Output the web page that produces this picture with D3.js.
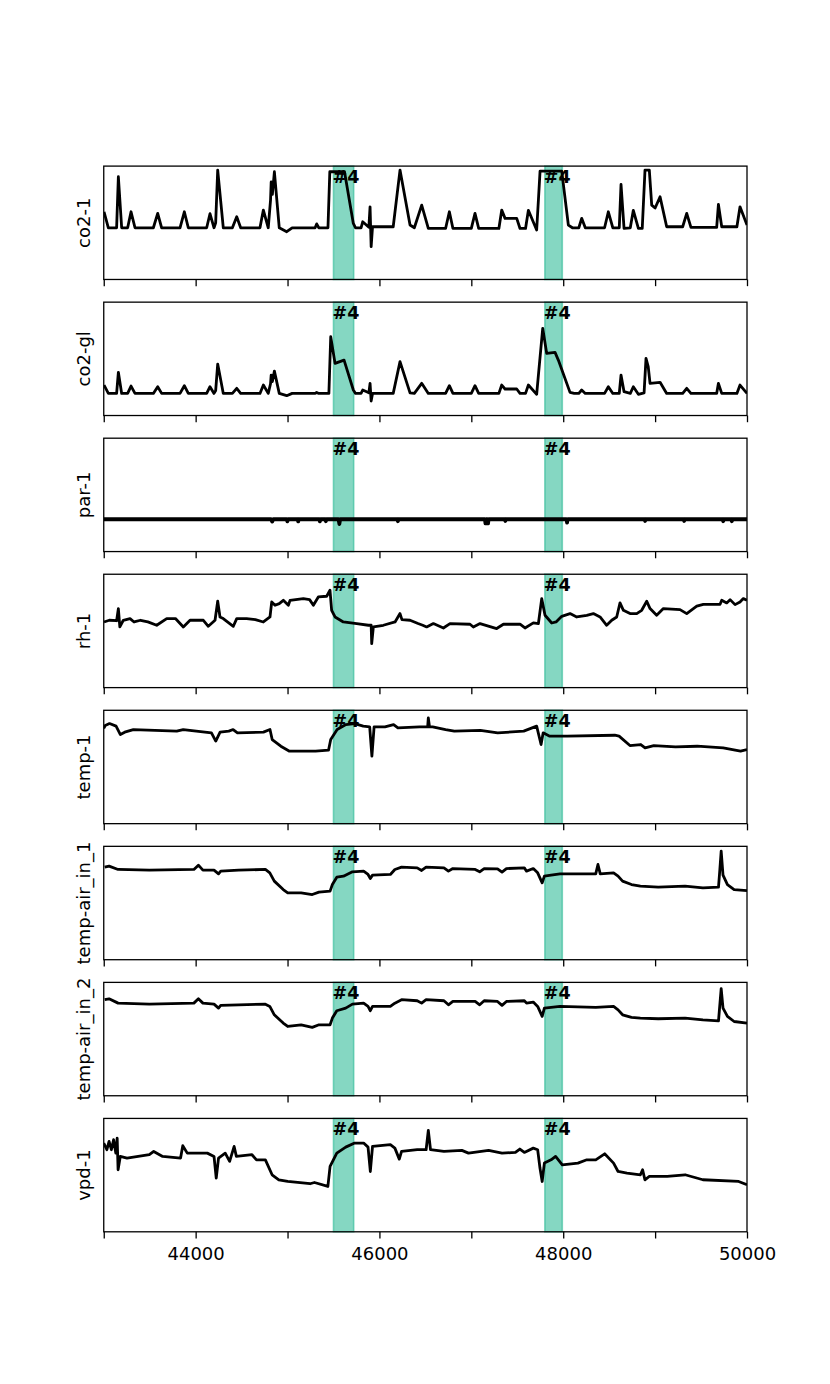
<!DOCTYPE html>
<html>
<head>
<meta charset="utf-8">
<script src="https://cdn.jsdelivr.net/npm/d3@7"></script>
<style>
  body { margin: 0; background: #fff; }
  text { font-family: "DejaVu Sans", sans-serif; }
  .ylab { font-size: 18px; }
  .tag { font-size: 17.5px; font-weight: bold; }
  .axis text { font-size: 18px; font-family: "DejaVu Sans", sans-serif; }
</style>
</head>
<body>
<div id="chart"></div>
<script>
// x range and the highlighted windows
const xDomain = [43000, 50000];
const tickValues = [43000, 44000, 45000, 46000, 47000, 48000, 49000, 50000];
const spans = [[45500, 45720], [47800, 47990]];
const spanLabel = "#4";

// series: [time, level] (y axis has no scale shown, level is 0-100 of panel height)
const co2_1 = [[43003,59.7],[43050,45.6],[43140,45.6],[43159,90.6],[43195,45.6],[43260,45.6],[43297,59.7],[43340,45.6],[43540,45.6],[43587,58.3],[43630,45.6],[43830,45.6],[43877,59.7],[43920,45.6],[44120,45.6],[44156,58],[44200,45.6],[44218,50],[44240,96.5],[44301,45.6],[44400,45.6],[44447,55.3],[44490,45.6],[44700,45.6],[44737,61.2],[44790,45.6],[44815,70],[44822,86],[44835,75],[44857,95],[44910,45.6],[44991,42.1],[45050,45.6],[45300,45.6],[45317,49],[45340,45.6],[45440,45.6],[45460,95],[45620,95],[45716,49.4],[45740,45.6],[45800,45.6],[45818,50.9],[45885,46],[45898,64.1],[45910,28.9],[45925,46.5],[46150,46.5],[46224,96.5],[46333,48],[46380,45.6],[46460,65.6],[46532,45],[46720,45],[46761,59.7],[46800,45],[47000,45],[47040,58.3],[47080,45],[47300,45],[47331,61.2],[47367,53.9],[47494,53.9],[47530,45],[47590,45],[47621,61],[47711,43.6],[47730,70],[47748,95.6],[47984,95.6],[48056,48],[48100,45.6],[48170,45.6],[48201,53.9],[48240,45.6],[48450,45.6],[48491,59.7],[48540,45.6],[48610,45.6],[48629,83.8],[48662,45],[48730,45.6],[48763,61],[48818,45],[48860,45],[48890,96.5],[48937,96.5],[48963,65.6],[49000,63],[49054,72.9],[49126,46.5],[49300,46.5],[49344,58.3],[49390,46],[49670,46],[49689,66.2],[49725,46.5],[49890,46.5],[49924,64.1],[50000,48]];

const co2_gl = [[43003,26.9],[43050,19.5],[43140,19.5],[43159,38.1],[43195,19.5],[43260,19.5],[43297,26],[43340,19.5],[43540,19.5],[43587,25.4],[43630,19.5],[43830,19.5],[43877,26.3],[43920,19.5],[44120,19.5],[44156,25.4],[44200,19.5],[44218,22],[44240,45.4],[44301,19.5],[44400,19.5],[44447,24],[44490,19.5],[44700,19.5],[44737,26.9],[44790,19.5],[44815,28],[44822,35.7],[44835,30],[44857,39.2],[44910,19.5],[44991,17.5],[45050,19.5],[45300,19.5],[45317,20.4],[45340,19.5],[45450,19.5],[45470,69.5],[45517,46],[45615,48.9],[45716,22.5],[45740,19.5],[45800,19.5],[45818,22.5],[45885,20],[45898,28.4],[45910,12.8],[45925,19.5],[46150,19.5],[46224,47.5],[46333,20],[46380,19.5],[46460,28.4],[46532,19.5],[46720,19.5],[46761,26.3],[46800,19.5],[47000,19.5],[47040,26.3],[47080,19.5],[47300,19.5],[47331,26.9],[47367,23.4],[47494,23.4],[47530,19.5],[47590,19.5],[47621,26.9],[47711,18.7],[47735,40],[47777,76.9],[47820,54.8],[47911,55.7],[47947,48.9],[48074,20.4],[48120,19.5],[48170,19.5],[48201,22.5],[48240,19.5],[48450,19.5],[48491,25.4],[48540,19.5],[48610,19.5],[48629,35.7],[48662,21],[48730,19.5],[48763,25.4],[48818,18.7],[48880,20],[48901,50.4],[48925,43.1],[48945,28.4],[49054,29.3],[49126,19.5],[49300,19.5],[49344,24],[49390,19.5],[49670,19.5],[49689,28.4],[49725,19.5],[49890,19.5],[49924,26.9],[50000,19.5]];

const par_1 = [[43000,28.5],[44820,28.5],[44833,26.4],[44846,28.5],[44990,28.5],[44998,26.6],[45006,28.5],[45110,28.5],[45116,26.6],[45122,28.5],[45345,28.5],[45352,26.6],[45360,28.5],[45410,28.5],[45417,26.8],[45424,28.5],[45555,28.5],[45564,24.3],[45573,28.5],[46195,28.5],[46201,26.8],[46207,28.5],[47148,28.5],[47154,24.8],[47160,28.5],[47176,28.5],[47182,24.8],[47188,28.5],[47364,28.5],[47370,27],[47376,28.5],[48036,28.5],[48042,25.5],[48048,28.5],[48885,28.5],[48891,27],[48897,28.5],[49310,28.5],[49316,27],[49322,28.5],[49735,28.5],[49741,26.8],[49747,28.5],[49829,28.5],[49835,26.8],[49841,28.5],[50000,28.5]];

const rh_1 = [[43003,57.9],[43060,59.4],[43140,59],[43159,69.7],[43175,53.5],[43213,59.4],[43286,60.9],[43330,57.9],[43400,59.4],[43480,58],[43576,55],[43685,60.9],[43780,60.9],[43866,53.5],[43939,59.4],[44084,59.4],[44138,54.1],[44211,59.4],[44240,76.2],[44265,62.3],[44300,60.9],[44410,54.1],[44447,60.9],[44555,60.9],[44650,60],[44737,57.9],[44809,62.3],[44828,75.6],[44864,72.6],[44910,74.1],[44954,77],[45009,72.6],[45027,77],[45172,78.5],[45240,77.6],[45281,72.6],[45335,80],[45426,80.6],[45462,85.9],[45480,68.2],[45517,62.3],[45607,57.9],[45753,56.4],[45880,55],[45910,55],[45916,38.8],[45934,53.5],[46043,55],[46170,57.9],[46224,65.3],[46245,60],[46333,59.4],[46420,56.5],[46471,55],[46514,53.5],[46587,56.5],[46696,52.6],[46768,56.5],[46986,55.9],[47022,53.5],[47095,56.5],[47276,52.1],[47349,55.9],[47530,55.9],[47584,52.6],[47675,57.1],[47730,56.5],[47766,78.5],[47802,63.8],[47875,57],[47922,57.9],[47984,62.9],[48074,65.3],[48147,62.3],[48256,63.8],[48328,65.3],[48401,62.3],[48473,55],[48528,59.4],[48582,62.3],[48618,74.7],[48655,68.2],[48727,65.3],[48800,65.3],[48854,68.2],[48909,76.2],[48945,69.7],[49017,63.8],[49090,69.7],[49271,68.8],[49344,65.3],[49453,71.8],[49525,73.5],[49707,73.5],[49725,77],[49779,74.7],[49816,77.6],[49870,73.2],[49924,75.6],[49960,78.5],[50000,77]];

const temp_1 = [[43000,84],[43016,86.5],[43063,88.3],[43134,86],[43181,78.6],[43228,80.7],[43322,83],[43794,81.6],[43865,83],[44172,80.1],[44219,72.8],[44266,80.7],[44361,81.6],[44408,83],[44455,80.1],[44738,80.7],[44809,83],[44833,74.2],[44927,68.3],[45021,63.9],[45305,63.9],[45446,64.8],[45470,74.2],[45540,83],[45635,87.4],[45729,88.3],[45824,86],[45894,85.4],[45918,59.5],[45942,85.4],[46060,85.4],[46154,87.4],[46201,84.5],[46437,85.4],[46525,85.4],[46532,93.3],[46545,85.4],[46579,85.4],[46720,83],[46815,81.6],[47098,82.3],[47287,80.1],[47570,81.6],[47711,86],[47759,69.8],[47782,80.1],[47853,77.2],[48042,77.2],[48561,78],[48608,77.2],[48726,68.9],[48844,69.8],[48891,66.8],[48986,68.9],[49222,67.7],[49458,68.3],[49741,66.8],[49930,63.9],[50000,65.3]];

const temp_air_in_1 = [[43010,81.6],[43058,82.5],[43156,79.6],[43496,79],[43981,79.6],[44030,83.4],[44079,79],[44200,79],[44249,75.7],[44273,78.1],[44467,79],[44759,79.6],[44807,76.6],[44856,69.3],[44953,61.9],[45002,59],[45148,59],[45269,57.5],[45342,59.6],[45463,60.5],[45488,66.3],[45536,72.8],[45609,73.7],[45706,77.5],[45828,78.1],[45876,75.2],[45901,71.6],[45925,74.6],[46119,75.2],[46168,79.6],[46241,81.6],[46411,81],[46459,78.7],[46508,81.6],[46702,81],[46751,78.1],[46799,80.4],[47042,79.6],[47091,77.5],[47140,80.4],[47285,80.2],[47334,77.2],[47382,80.4],[47577,81],[47601,78.1],[47674,80.4],[47722,76.6],[47771,67.8],[47795,73.7],[47868,74.6],[47965,75.7],[48354,75.7],[48378,84],[48403,75.7],[48548,76.6],[48597,73.7],[48646,69.3],[48743,66.3],[48840,64.9],[49034,64],[49326,64.9],[49520,63.4],[49690,64],[49705,80],[49719,95.7],[49739,74.6],[49787,66.3],[49860,61.9],[50000,61]];

const temp_air_in_2 = [[43010,84.7],[43058,85.5],[43156,81.7],[43496,80.8],[43981,81.7],[44030,85.5],[44079,81.7],[44200,80.8],[44249,77.3],[44273,79.7],[44467,80.2],[44759,80.8],[44807,78.8],[44856,71.4],[44953,64.1],[45002,61.1],[45148,62.6],[45269,60.3],[45342,62.6],[45463,62.6],[45488,68.5],[45536,75],[45633,77.3],[45706,80.8],[45828,81.7],[45876,78.8],[45901,75],[45925,78.8],[46119,78.8],[46168,81.7],[46241,84.7],[46411,83.8],[46459,81.7],[46508,84.7],[46702,83.8],[46751,80.2],[46799,83.2],[47042,83.2],[47091,80.2],[47140,83.8],[47285,83.2],[47334,79.7],[47382,83.2],[47577,83.8],[47601,81.7],[47674,82.6],[47722,78.8],[47771,70],[47795,77.3],[47868,77.9],[47965,78.8],[48354,77.9],[48548,78.8],[48597,75.8],[48646,71.4],[48743,69.1],[48840,68.5],[49034,67.9],[49326,68.5],[49520,67],[49690,66.1],[49719,94.4],[49739,77.3],[49787,70],[49860,65.5],[50000,64.1]];

const vpd_1 = [[43000,78.3],[43034,72.4],[43058,79.7],[43083,72.4],[43107,81.2],[43131,69.4],[43146,82.7],[43156,54.7],[43180,66.5],[43253,65],[43496,68],[43544,70.9],[43641,66.5],[43836,65],[43860,75.9],[43909,69.4],[44127,69.4],[44200,66.5],[44224,47.4],[44249,65],[44322,69.4],[44370,62.1],[44419,75.3],[44443,66.5],[44613,68],[44662,63.5],[44759,63.5],[44832,50.3],[44905,45.9],[45002,44.4],[45245,42.4],[45293,43.5],[45439,40],[45463,57.7],[45536,69.4],[45633,74.7],[45730,78.3],[45828,78.3],[45876,74.7],[45901,53.2],[45925,75.3],[46119,76.8],[46168,73.8],[46216,64.1],[46241,70.9],[46411,72.4],[46508,72.4],[46532,89.4],[46556,72.4],[46702,70.9],[46897,71.8],[46969,69.4],[47188,71.8],[47334,69.4],[47480,70],[47528,73],[47577,70],[47674,73.8],[47722,72.4],[47747,56.2],[47771,44.4],[47795,60.6],[47868,63.5],[47917,66.5],[47990,59.1],[48160,60.6],[48257,63.5],[48354,63.5],[48451,68.8],[48548,60.6],[48597,53.2],[48694,51.8],[48840,50.3],[48864,54.7],[48889,45.9],[48937,48.8],[49131,48.8],[49326,50.3],[49520,45.9],[49909,44.4],[50000,41.5]];

const panelNames = ["co2-1", "co2-gl", "par-1", "rh-1", "temp-1", "temp-air_in_1", "temp-air_in_2", "vpd-1"];
const panelSeries = [co2_1, co2_gl, par_1, rh_1, temp_1, temp_air_in_1, temp_air_in_2, vpd_1];

/* figure geometry, same fractions as a default matplotlib figure */
const width = 830, height = 1384;
const margin = { top: 166.1, left: 103.75, right: 83, bottom: 152.2 };
const hspace = 0.2;
const nPanels = panelNames.length;
const panelH = (height - margin.top - margin.bottom) / (nPanels + (nPanels - 1) * hspace);
const step = panelH * (1 + hspace);

const svg = d3.select("#chart")
    .append("svg")
    .attr("width", width)
    .attr("height", height);

const xScale = d3.scaleLinear()
    .domain(xDomain)
    .range([margin.left, width - margin.right]);

const yScale = d3.scaleLinear()
    .domain([0, 100])
    .range([panelH, 0]);

const line = d3.line()
    .x(d => xScale(d[0]))
    .y(d => yScale(d[1]));

panelNames.forEach((name, i) => {
    const g = svg.append("g")
        .attr("transform", `translate(0,${margin.top + i * step})`);

    g.append("clipPath")
        .attr("id", "clip" + i)
        .append("rect")
        .attr("x", margin.left)
        .attr("y", 0)
        .attr("width", xScale.range()[1] - margin.left)
        .attr("height", panelH);

    // highlighted windows
    g.selectAll(".span")
        .data(spans)
        .enter()
        .append("rect")
        .attr("class", "span")
        .attr("x", d => xScale(d[0]))
        .attr("y", 0)
        .attr("width", d => xScale(d[1]) - xScale(d[0]))
        .attr("height", panelH)
        .attr("fill", "#20b68f")
        .attr("fill-opacity", 0.55)
        .attr("stroke", "#20b68f")
        .attr("stroke-opacity", 0.55)
        .attr("stroke-width", 1.6);

    g.selectAll(".tag")
        .data(spans)
        .enter()
        .append("text")
        .attr("class", "tag")
        .attr("x", d => xScale(d[0]) - 1)
        .attr("y", 17)
        .text(spanLabel);

    // the series itself
    g.append("path")
        .datum(panelSeries[i])
        .attr("clip-path", `url(#clip${i})`)
        .attr("fill", "none")
        .attr("stroke", "#000")
        .attr("stroke-width", name === "par-1" ? 3.8 : 2.8)
        .attr("stroke-linejoin", "round")
        .attr("d", line);

    // frame
    g.append("rect")
        .attr("x", margin.left)
        .attr("y", 0)
        .attr("width", xScale.range()[1] - margin.left)
        .attr("height", panelH)
        .attr("fill", "none")
        .attr("stroke", "#000")
        .attr("stroke-width", 1.3);

    // bottom ticks on every panel, labels only on the last one
    const last = i === nPanels - 1;
    const xAxis = g.append("g")
        .attr("class", "axis")
        .attr("transform", `translate(0,${panelH})`)
        .call(d3.axisBottom(xScale)
            .tickValues(tickValues)
            .tickSize(6.7)
            .tickPadding(8.7)
            .tickFormat(d => (last && d % 2000 === 0) ? String(d) : ""));
    xAxis.select(".domain").remove();
    xAxis.selectAll(".tick line").attr("stroke", "#000").attr("stroke-width", 1.3);
    xAxis.selectAll(".tick text").attr("fill", "#000");

    g.append("text")
        .attr("class", "ylab")
        .attr("text-anchor", "middle")
        .attr("transform", `translate(89.5,${panelH / 2}) rotate(-90)`)
        .text(name);
});
</script>
</body>
</html>
